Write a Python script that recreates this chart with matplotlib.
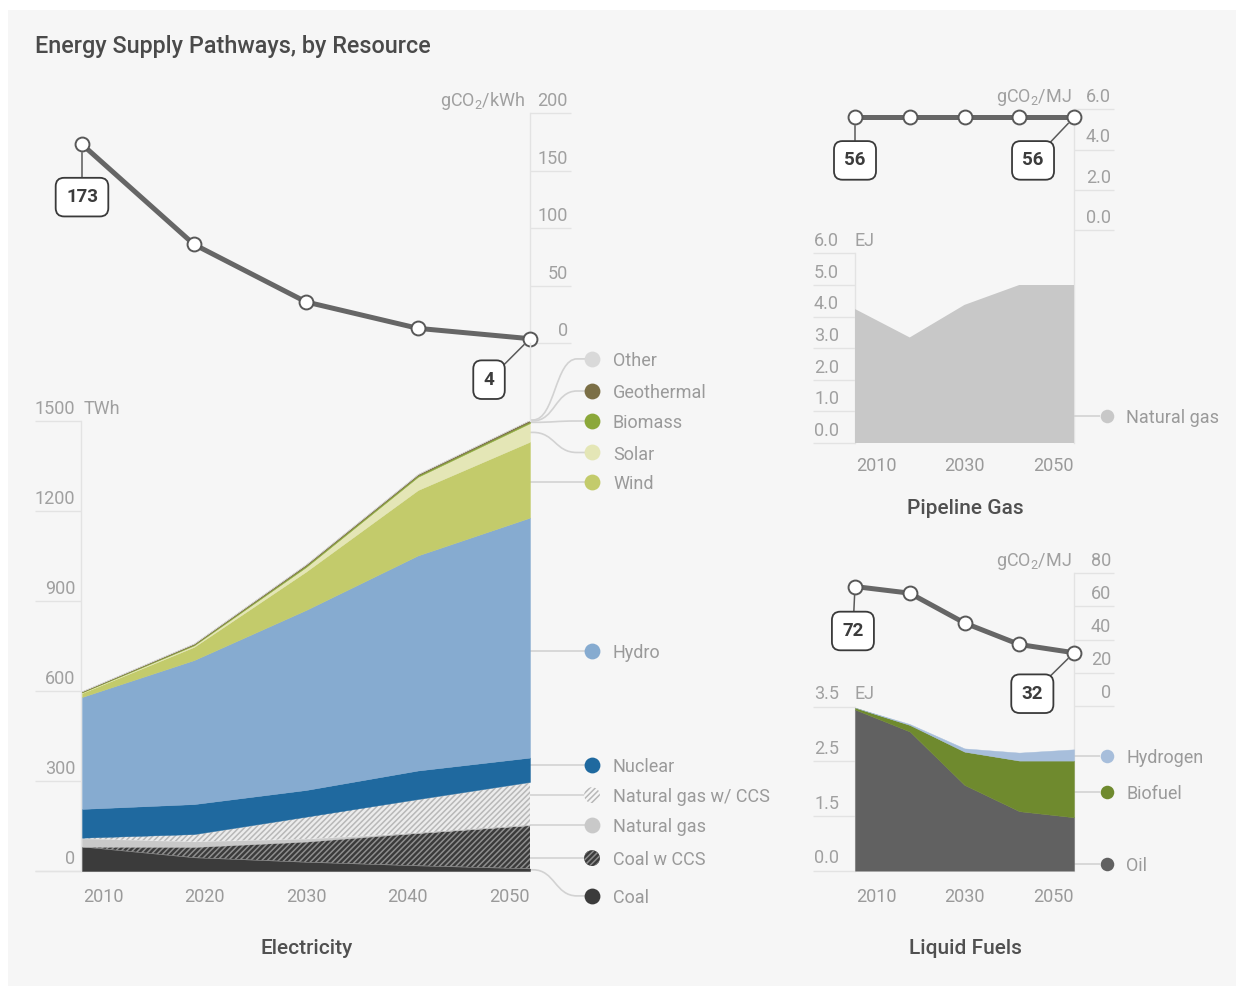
import matplotlib
matplotlib.use('Agg')
import matplotlib.pyplot as plt
import matplotlib.transforms as mtransforms
from matplotlib.patches import Rectangle, PathPatch
from matplotlib.path import Path
import numpy as np

plt.rcParams['font.family'] = ['Roboto', 'DejaVu Sans']
plt.rcParams['hatch.linewidth'] = 1.1

# ---------------- data ----------------
years = [2010, 2020, 2030, 2040, 2050]

# Electricity generation (TWh), stacked bottom -> top
coal = [81, 45, 30, 18, 8]
coal_ccs = [0, 35, 68, 109, 145]
natural_gas = [27, 18, 9, 0, 0]
natural_gas_ccs = [3, 25, 74, 113, 144]
nuclear = [96, 100, 89, 95, 81]
hydro = [373, 480, 600, 717, 800]
wind = [13, 44, 128, 218, 253]
solar = [2, 5, 15, 44, 62]
biomass = [2, 3, 5, 5, 5]
geothermal = [2, 3, 4, 4, 5]
other = [1, 1, 1, 1, 1]
elec_co2 = [173, 86, 36, 13, 4]           # gCO2/kWh

# Pipeline gas (EJ) and intensity
pipeline_natural_gas = [4.24, 3.34, 4.37, 5.0, 5.0]
pipeline_co2 = [56, 56, 56, 56, 56]        # gCO2/MJ

# Liquid fuels (EJ) and intensity
oil = [3.44, 2.97, 1.83, 1.27, 1.14]
biofuel = [0.04, 0.14, 0.71, 1.08, 1.21]
hydrogen = [0.0, 0.02, 0.07, 0.17, 0.24]
liquid_co2 = [72, 68, 50, 37, 32]          # gCO2/MJ

elec_names = ['Coal', 'Coal w CCS', 'Natural gas', 'Natural gas w/ CCS', 'Nuclear',
              'Hydro', 'Wind', 'Solar', 'Biomass', 'Geothermal', 'Other']
elec_values = [coal, coal_ccs, natural_gas, natural_gas_ccs, nuclear,
               hydro, wind, solar, biomass, geothermal, other]
elec_legend_y = [-83, 43, 153, 253, 353, 733, 1297, 1395, 1500, 1600, 1707]

elec_ticks = [0, 300, 600, 900, 1200, 1500]
elec_co2_ticks = [0, 50, 100, 150, 200]
pg_ticks = [0, 1, 2, 3, 4, 5, 6]
pg_tick_labels = ['0.0', '1.0', '2.0', '3.0', '4.0', '5.0', '6.0']
pg_co2_ticks = [0, 20, 40, 60]
pg_co2_tick_labels = ['0.0', '2.0', '4.0', '6.0']
lf_tick_labels = ['0.0', '1.5', '2.5', '3.5']
lf_co2_ticks = [0, 20, 40, 60, 80]
year_labels_el = ['2010', '2020', '2030', '2040', '2050']
year_labels_small = ['2010', '2030', '2050']

# ---------------- styles ----------------
BG = '#f6f6f6'
GRID = '#e3e3e3'
TICK = '#a0a0a0'
LEG = '#9a9a9a'
CONN = '#d2d2d2'
LINE = '#666666'

elec_styles = {
    'Coal': dict(fc='#3b3b3b'),
    'Coal w CCS': dict(fc='#3b3b3b', ec='#8e8e8e', hatch='//////'),
    'Natural gas': dict(fc='#c9c9c9'),
    'Natural gas w/ CCS': dict(fc='#ececec', ec='#b8b8b8', hatch='//////'),
    'Nuclear': dict(fc='#1f699f'),
    'Hydro': dict(fc='#86abd0'),
    'Wind': dict(fc='#c3cb6b'),
    'Solar': dict(fc='#e4e6b6'),
    'Biomass': dict(fc='#8ba83a'),
    'Geothermal': dict(fc='#7b6f46'),
    'Other': dict(fc='#d9d9d9'),
}

W, H = 1239, 988
fig = plt.figure(figsize=(W / 100, H / 100), dpi=100, facecolor='white')
fig.patches.append(Rectangle((8 / W, 1 - 986 / H), (1236 - 8) / W, (986 - 10) / H,
                             transform=fig.transFigure, fc=BG, ec='none', zorder=-10))


def add_ax(x0, y0, x1, y1):
    ax = fig.add_axes([x0 / W, 1 - y1 / H, (x1 - x0) / W, (y1 - y0) / H])
    ax.set_axis_off()
    ax.patch.set_alpha(0)
    return ax


def blend(ax):
    return mtransforms.blended_transform_factory(ax.transAxes, ax.transData)


def hline(ax, xa, xb, v, color=GRID, lw=1.0, z=0):
    ax.plot([xa, xb], [v, v], transform=blend(ax), color=color, lw=lw,
            clip_on=False, zorder=z, solid_capstyle='butt')


def vline(ax, xf, v0, v1, color=GRID, lw=1.0, z=0):
    ax.plot([xf, xf], [v0, v1], transform=blend(ax), color=color, lw=lw,
            clip_on=False, zorder=z)


def tick_label(ax, xf, v, s, ha, size=13, color=TICK):
    ax.annotate(s, xy=(xf, v), xycoords=blend(ax), xytext=(0, 5.2),
                textcoords='offset points', ha=ha, va='baseline',
                fontsize=size, color=color, annotation_clip=False)


def connector(ax, xs, xa, xb, xe, y0, y1):
    if abs(y1 - y0) < 1e-9:
        verts = [(xs, y0), (xe, y1)]
        codes = [Path.MOVETO, Path.LINETO]
    else:
        xm = (xa + xb) / 2
        verts = [(xs, y0), (xa, y0), (xm, y0), (xm, y1), (xb, y1), (xe, y1)]
        codes = [Path.MOVETO, Path.LINETO, Path.CURVE4, Path.CURVE4, Path.CURVE4, Path.LINETO]
    ax.add_patch(PathPatch(Path(verts, codes), transform=blend(ax), fill=False,
                           ec=CONN, lw=1.2, clip_on=False, zorder=1))


def legend_item(ax, dot_f, text_f, y, name, fc, ec=None, hatch=None, s=130):
    kw = dict(s=s, transform=blend(ax), clip_on=False, zorder=5)
    if hatch:
        ax.scatter([dot_f], [y], c=[fc], edgecolors=ec, linewidths=0, hatch=hatch, **kw)
    else:
        ax.scatter([dot_f], [y], c=[fc], linewidths=0, **kw)
    ax.annotate(name, xy=(text_f, y), xycoords=blend(ax), xytext=(0, 0),
                textcoords='offset points', ha='left', va='center_baseline',
                fontsize=13, color=LEG, annotation_clip=False)


def year_axis(ax, labels, ax_w_px, y_px_off):
    hw = 21 / ax_w_px
    centers = np.linspace(hw, 1 - hw, len(labels))
    for c, s in zip(centers, labels):
        ax.annotate(s, xy=(c, 0), xycoords='axes fraction', xytext=(0, -y_px_off * 0.72),
                    textcoords='offset points', ha='center', va='center',
                    fontsize=13, color=LEG, annotation_clip=False)


def co2_line(ax, vals, first_off, last_off):
    ax.plot(years, vals, color=LINE, lw=3.6, zorder=2, clip_on=False,
            solid_capstyle='round', solid_joinstyle='round')
    ax.plot(years, vals, 'o', ms=10, mfc='white', mec='#585858', mew=1.4,
            zorder=3, clip_on=False)
    for (x, v, off) in [(years[0], vals[0], first_off), (years[-1], vals[-1], last_off)]:
        ax.annotate(f'{v}', xy=(x, v), xytext=off, textcoords='offset points',
                    ha='center', va='center', fontsize=13.5, fontweight='bold',
                    color='#3c3c3c', zorder=6, annotation_clip=False,
                    bbox=dict(boxstyle='round,pad=0.55,rounding_size=0.45',
                              fc='white', ec='#3a3a3a', lw=1.3),
                    arrowprops=dict(arrowstyle='-', color='#5a5a5a', lw=1.1,
                                    shrinkA=0, shrinkB=6))


# ================= Electricity =================
EL_X0, EL_X1 = 82, 530
EL_W = EL_X1 - EL_X0
ax_el = add_ax(EL_X0, 421, EL_X1, 871)
ax_el.set_xlim(2010, 2050)
ax_el.set_ylim(0, 1500)

def fel(px):
    return (px - EL_X0) / EL_W

base = np.zeros(len(years))
bands = []
for name, vals in zip(elec_names, elec_values):
    top = base + np.array(vals, dtype=float)
    st = elec_styles[name]
    if 'hatch' in st:
        ax_el.fill_between(years, base, top, facecolor=st['fc'], edgecolor=st['ec'],
                           hatch=st['hatch'], linewidth=0, zorder=2)
    else:
        ax_el.fill_between(years, base, top, facecolor=st['fc'], edgecolor=st['fc'],
                           linewidth=0.3, zorder=2)
    bands.append((base[-1], top[-1]))
    base = top

# gridlines / axis
for v in elec_ticks:
    hline(ax_el, fel(35), fel(81), v)
    tick_label(ax_el, fel(75), v, str(v), 'right')
hline(ax_el, fel(35), 1.0, 0)
vline(ax_el, fel(81), 0, 1500)
ax_el.annotate('TWh', xy=(fel(84), 1500), xycoords=blend(ax_el), xytext=(0, 5.2),
               textcoords='offset points', ha='left', va='baseline', fontsize=13,
               color=TICK, annotation_clip=False)
year_axis(ax_el, year_labels_el, EL_W, 26)

# legend
for name, (b0, b1), ly in zip(elec_names, bands, elec_legend_y):
    st = elec_styles[name]
    y0 = ly if (b0 <= ly <= b1) else (b0 + b1) / 2
    connector(ax_el, 1.0, fel(533), fel(577), fel(588), y0, ly)
    legend_item(ax_el, fel(592), fel(613), ly, name, st['fc'] if name != 'Natural gas w/ CCS' else '#f6f6f6',
                ec=st.get('ec'), hatch=st.get('hatch'))

# Electricity CO2
ax_ec = add_ax(EL_X0, 113.3, EL_X1, 343.3)
ax_ec.set_xlim(2010, 2050)
ax_ec.set_ylim(0, 200)
for v in elec_co2_ticks:
    hline(ax_ec, 1.0, fel(571), v)
    tick_label(ax_ec, fel(568), v, str(v), 'right')
vline(ax_ec, 1.0, 0, 200)
ax_ec.annotate(r'gCO$_\mathregular{2}$/kWh', xy=(fel(525), 200), xycoords=blend(ax_ec),
               xytext=(0, 5.2), textcoords='offset points', ha='right', va='baseline',
               fontsize=13, color=TICK, annotation_clip=False)
co2_line(ax_ec, elec_co2, (0, -38), (-29.5, -29.5))
fig.add_artist(plt.Line2D([530 / W, 530 / W], [1 - 343 / H, 1 - 421 / H], color=GRID, lw=1))

# ================= Pipeline gas =================
SX0, SX1 = 855, 1074
SW = SX1 - SX0

def fs(px):
    return (px - SX0) / SW

ax_pg = add_ax(SX0, 253.4, SX1, 443)
ax_pg.set_xlim(2010, 2050)
ax_pg.set_ylim(0, 6)
ax_pg.fill_between(years, 0, pipeline_natural_gas, facecolor='#c8c8c8', linewidth=0, zorder=2)
for v, s in zip(pg_ticks, pg_tick_labels):
    hline(ax_pg, fs(813), fs(855), v)
    tick_label(ax_pg, fs(839), v, s, 'right')
vline(ax_pg, 0.0, 0, 6)
ax_pg.annotate('EJ', xy=(fs(855), 6), xycoords=blend(ax_pg), xytext=(0, 5.2),
               textcoords='offset points', ha='left', va='baseline', fontsize=13,
               color=TICK, annotation_clip=False)
year_axis(ax_pg, year_labels_small, SW, 23)
connector(ax_pg, 1.0, fs(1076), fs(1090), fs(1100), 0.85, 0.85)
legend_item(ax_pg, fs(1107), fs(1126), 0.85, 'Natural gas', '#c8c8c8', s=95)

ax_pc = add_ax(SX0, 109.3, SX1, 230)
ax_pc.set_xlim(2010, 2050)
ax_pc.set_ylim(0, 60)
for v, s in zip(pg_co2_ticks, pg_co2_tick_labels):
    hline(ax_pc, 1.0, fs(1114), v)
    tick_label(ax_pc, fs(1111), v, s, 'right')
ax_pc.annotate(r'gCO$_\mathregular{2}$/MJ', xy=(fs(1072), 60), xycoords=blend(ax_pc),
               xytext=(0, 5.2), textcoords='offset points', ha='right', va='baseline',
               fontsize=13, color=TICK, annotation_clip=False)
fig.add_artist(plt.Line2D([1074 / W, 1074 / W], [1 - 109.3 / H, 1 - 443 / H], color=GRID, lw=1, zorder=0))
co2_line(ax_pc, pipeline_co2, (0, -31), (-29.5, -31))

# ================= Liquid fuels =================
ax_lf = add_ax(SX0, 706.7, SX1, 870.7)
ax_lf.set_xlim(2010, 2050)
ax_lf.set_ylim(0, 3.5)
lb = np.zeros(len(years))
liq = [('Oil', oil, '#616161'), ('Biofuel', biofuel, '#6f8a2e'), ('Hydrogen', hydrogen, '#a7bedb')]
liq_bands = []
for name, vals, col in liq:
    t = lb + np.array(vals)
    ax_lf.fill_between(years, lb, t, facecolor=col, edgecolor=col, linewidth=0.3, zorder=2)
    liq_bands.append((lb[-1], t[-1]))
    lb = t
lf_pos = np.linspace(0, 3.5, len(lf_tick_labels))
for v, s in zip(lf_pos, lf_tick_labels):
    hline(ax_lf, fs(813), fs(855), v)
    tick_label(ax_lf, fs(839), v, s, 'right')
vline(ax_lf, 0.0, 0, 3.5)
ax_lf.annotate('EJ', xy=(fs(855), 3.5), xycoords=blend(ax_lf), xytext=(0, 5.2),
               textcoords='offset points', ha='left', va='baseline', fontsize=13,
               color=TICK, annotation_clip=False)
year_axis(ax_lf, year_labels_small, SW, 26)
liq_legend_y = [0.145, 1.68, 2.45]
for (name, vals, col), ly in zip(liq, liq_legend_y):
    connector(ax_lf, 1.0, fs(1076), fs(1090), fs(1100), ly, ly)
    legend_item(ax_lf, fs(1107), fs(1126), ly, name, col, s=95)

ax_lc = add_ax(SX0, 573.3, SX1, 705.7)
ax_lc.set_xlim(2010, 2050)
ax_lc.set_ylim(0, 80)
for v in lf_co2_ticks:
    hline(ax_lc, 1.0, fs(1114), v)
    tick_label(ax_lc, fs(1111), v, str(v), 'right')
ax_lc.annotate(r'gCO$_\mathregular{2}$/MJ', xy=(fs(1072), 80), xycoords=blend(ax_lc),
               xytext=(0, 5.2), textcoords='offset points', ha='right', va='baseline',
               fontsize=13, color=TICK, annotation_clip=False)
fig.add_artist(plt.Line2D([1074 / W, 1074 / W], [1 - 573.3 / H, 1 - 870.7 / H], color=GRID, lw=1, zorder=0))
co2_line(ax_lc, liquid_co2, (-1.5, -32), (-30, -29.5))

# ================= titles =================
fig.text(35 / W, 1 - 47 / H, 'Energy Supply Pathways, by Resource', ha='left', va='center',
         fontsize=16.8, color='#4a4a4a', fontweight='medium')
fig.text(307 / W, 1 - 948 / H, 'Electricity', ha='center', va='center', fontsize=15,
         color='#505050', fontweight='medium')
fig.text(965 / W, 1 - 509 / H, 'Pipeline Gas', ha='center', va='center', fontsize=15,
         color='#505050', fontweight='medium')
fig.text(965 / W, 1 - 948 / H, 'Liquid Fuels', ha='center', va='center', fontsize=15,
         color='#505050', fontweight='medium')

fig.savefig('out.png', dpi=100, facecolor='white')
